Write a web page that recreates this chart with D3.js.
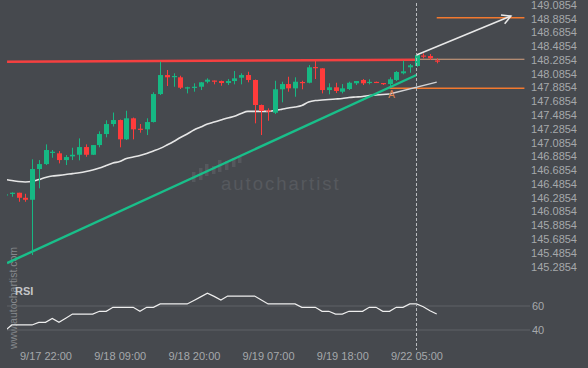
<!DOCTYPE html>
<html><head><meta charset="utf-8">
<script src="https://cdn.jsdelivr.net/npm/d3@7"></script>
<style>
html,body{margin:0;padding:0;background:#46494e;}
svg{display:block;font-family:"Liberation Sans",Arial,sans-serif;}
</style></head>
<body>
<svg id="c" width="588" height="368"></svg>
<script>
// ---- data ----
const opens = [146.330,146.354,146.357,146.284,146.255,146.701,146.773,146.948,146.929,146.831,146.885,146.908,147.020,146.908,147.049,147.209,147.354,147.412,147.132,147.437,147.286,147.277,147.383,147.789,148.065,148.043,148.032,147.882,147.891,147.895,147.968,147.985,147.978,147.949,147.978,148.026,148.065,147.993,147.630,147.553,147.518,147.858,147.934,147.872,147.964,147.953,148.181,148.162,147.847,147.887,147.823,147.862,147.945,147.993,147.961,147.966,147.949,147.934,147.993,148.090,148.177,148.196,148.348,148.341,148.276];
const highs = [146.345,146.363,146.357,146.342,146.842,146.831,147.059,146.977,146.962,146.904,147.010,147.146,147.059,147.049,147.248,147.408,147.521,147.419,147.547,147.448,147.354,147.437,147.814,148.258,148.138,148.090,148.055,147.895,147.945,147.964,148.017,147.985,147.985,148.007,148.123,148.090,148.113,148.000,147.637,147.582,147.982,147.968,148.040,148.032,147.982,148.210,148.283,148.166,147.945,147.953,147.934,147.968,147.978,148.007,148.003,147.970,147.949,148.032,148.123,148.273,148.225,148.370,148.380,148.370,148.307];
const lows = [146.323,146.299,146.226,146.226,145.453,146.421,146.759,146.865,146.783,146.759,146.831,146.827,146.879,146.904,147.016,147.161,147.318,147.016,147.122,147.132,147.228,147.194,147.376,147.775,147.905,147.895,147.862,147.799,147.823,147.847,147.945,147.930,147.910,147.920,147.930,147.930,147.959,147.364,147.194,147.402,147.499,147.669,147.823,147.750,147.858,147.945,148.007,147.799,147.785,147.804,147.799,147.847,147.920,147.920,147.930,147.958,147.920,147.905,147.978,148.075,148.098,148.185,148.307,148.283,148.235];
const closes = [146.334,146.357,146.284,146.255,146.701,146.773,146.977,146.952,146.831,146.875,146.908,147.020,146.908,147.049,147.209,147.354,147.412,147.132,147.437,147.277,147.274,147.383,147.789,148.065,148.032,148.051,147.881,147.887,147.895,147.959,147.997,147.979,147.949,147.978,148.017,148.065,147.993,147.630,147.543,147.543,147.858,147.934,147.872,147.968,147.955,148.177,148.174,147.847,147.887,147.833,147.872,147.953,147.978,147.945,147.966,147.961,147.942,148.003,148.109,148.119,148.206,148.355,148.342,148.307,148.270];
const maValues = [146.551,146.534,146.519,146.512,146.519,146.548,146.577,146.599,146.609,146.621,146.635,146.647,146.664,146.686,146.715,146.752,146.788,146.810,146.853,146.875,146.897,146.926,146.962,147.001,147.049,147.100,147.158,147.209,147.267,147.310,147.354,147.383,147.412,147.441,147.466,147.506,147.538,147.538,147.538,147.538,147.550,147.567,147.586,147.601,147.622,147.673,147.695,147.702,147.710,147.717,147.724,147.739,147.746,147.753,147.768,147.775,147.782,147.789];
const rsiValues = [39.5,44.2,44.2,44.2,44.2,46.4,46.4,49.7,46.4,49.8,53.3,53.3,53.3,53.3,55.6,55.6,58.9,58.9,58.9,58.9,55.6,58.9,58.9,61.7,61.7,61.7,61.7,61.7,64.6,67.6,70.6,68,65,68.3,68.3,68.3,68.3,68.3,65,61.7,61.7,61.7,61.7,61.7,58.9,58.9,58.9,55.6,55.6,53.3,53.3,55.6,55.6,55.6,58.9,58.9,55.6,55.6,58.9,58.9,61.7,61.7,59.4,56.1,53.3];
const yTickLabels = ["149.0854","148.8854","148.6854","148.4854","148.2854","148.0854","147.8854","147.6854","147.4854","147.2854","147.0854","146.8854","146.6854","146.4854","146.2854","146.0854","145.8854","145.6854","145.4854","145.2854"];
const xTickIdx = [6,17,28,39,50,61];
const xTickLabels = ["9/17 22:00","9/18 09:00","9/18 20:00","9/19 07:00","9/19 18:00","9/22 05:00"];
const rsiTicks = [60,40];
// pattern lines: [startIndex, startPrice, endIndex, endPrice]
const resistance = [0.3, 148.257, 61, 148.287];
const support = [0.3, 145.336, 61, 148.065];
const channelExt = [57, 147.789, 64, 147.963];
const forecastArrow = [61, 148.355, 75, 148.921];
const levelTop = [64, 148.895, 77, 148.895];
const levelMid = [61, 148.293, 77, 148.293];
const levelLow = [57, 147.872, 77, 147.872];
const markA = [57.3, 147.78];
const nowIdx = 61;

// ---- scales ----
const x = d3.scaleLinear().domain([6, 61]).range([45.5, 416.5]);
const y = d3.scaleLinear().domain([145.2854, 149.0854]).range([266.6, 4.7]);
const yr = d3.scaleLinear().domain([40, 60]).range([330, 306]);

const svg = d3.select("#c");
svg.append("rect").attr("width",588).attr("height",368).attr("fill","#46494e");
svg.append("clipPath").attr("id","clip").append("rect").attr("x",7).attr("y",0).attr("width",581).attr("height",368);

// watermark center
const wm = svg.append("g");
const wmBars = [[192,172,182],[199,168,180],[205,164,176],[212,166,174],[218,160,172],[225,161,170],[232,158,167],[238,156,163]];
wm.selectAll("rect").data(wmBars).join("rect")
  .attr("x",d=>d[0]).attr("y",d=>d[1]).attr("width",3.5).attr("height",d=>d[2]-d[1]).attr("fill","#55585d");
wm.append("text").attr("x",221).attr("y",190).attr("font-size",18.5).attr("fill","#56595e")
  .attr("letter-spacing",2).text("autochartist");

// side watermark
svg.append("text").attr("transform","translate(17,349) rotate(-90)").attr("font-size",10.5)
  .attr("fill","#85888c").text("www.autochartist.com");

const g = svg.append("g").attr("clip-path","url(#clip)");

// RSI grid
g.selectAll("line.rg").data(rsiTicks).join("line").attr("class","rg")
  .attr("x1",7).attr("x2",530).attr("y1",d=>yr(d)).attr("y2",d=>yr(d))
  .attr("stroke","#5f6266").attr("stroke-width",1);
svg.selectAll("text.rl").data(rsiTicks).join("text").attr("class","rl")
  .attr("x",532).attr("y",d=>yr(d)).attr("dy","0.35em").attr("font-size",11).attr("fill","#a5a8ab").text(d=>d);
svg.append("text").attr("x",15).attr("y",295).attr("font-size",11).attr("font-weight","bold").attr("fill","#c4c6c8").text("RSI");

// now line
svg.append("line").attr("x1",x(nowIdx)).attr("x2",x(nowIdx)).attr("y1",3).attr("y2",350)
  .attr("stroke","#b9bcbf").attr("stroke-width",1).attr("stroke-dasharray","3,2");

// level lines
const seg = (arr, color, w) => g.append("line")
  .attr("x1",x(arr[0])).attr("y1",y(arr[1])).attr("x2",x(arr[2])).attr("y2",y(arr[3]))
  .attr("stroke",color).attr("stroke-width",w);
seg(levelTop, "#f2792f", 1.5);
seg(levelMid, "#d9a27f", 1.1);
seg(levelLow, "#f2792f", 1.5);

// moving average
const maLine = d3.line().x((d,i)=>x(i)).y(d=>y(d)).curve(d3.curveMonotoneX);
g.append("path").attr("d",maLine(maValues)).attr("fill","none").attr("stroke","#e6e6e6").attr("stroke-width",1.6);
seg(channelExt, "#d2d3d5", 1.4);

// support / resistance
seg(resistance, "#ff4040", 2.6).attr("opacity",0.95);
seg(support, "#19bf8a", 2.4);

// candles
const idx = d3.range(opens.length);
const up = i => closes[i] >= opens[i];
const cg = g.append("g");
cg.selectAll("line.w").data(idx).join("line").attr("class","w")
  .attr("x1",i=>Math.round(x(i))+0.5).attr("x2",i=>Math.round(x(i))+0.5)
  .attr("y1",i=>y(highs[i])).attr("y2",i=>y(lows[i]))
  .attr("stroke",i=>up(i)?"#16b883":"#ff3b3b").attr("stroke-width",1);
cg.selectAll("rect.b").data(idx).join("rect").attr("class","b")
  .attr("x",i=>Math.round(x(i))-2)
  .attr("y",i=>y(Math.max(opens[i],closes[i])))
  .attr("width",5)
  .attr("height",i=>Math.max(1.2, y(Math.min(opens[i],closes[i]))-y(Math.max(opens[i],closes[i]))))
  .attr("fill",i=>up(i)?"#16b883":"#ff3b3b");

// forecast arrow
const ax1 = x(forecastArrow[0]), ay1 = y(forecastArrow[1]), ax2 = x(forecastArrow[2]), ay2 = y(forecastArrow[3]);
g.append("line").attr("x1",ax1).attr("y1",ay1).attr("x2",ax2).attr("y2",ay2).attr("stroke","#e8e8e8").attr("stroke-width",1.5);
const ang = Math.atan2(ay2-ay1, ax2-ax1);
const hl = 10;
g.append("path").attr("d",
  `M${ax2-hl*Math.cos(ang-0.5)},${ay2-hl*Math.sin(ang-0.5)}L${ax2},${ay2}L${ax2-hl*Math.cos(ang+0.5)},${ay2-hl*Math.sin(ang+0.5)}`)
  .attr("fill","none").attr("stroke","#e8e8e8").attr("stroke-width",1.5);

// A marker
svg.append("text").attr("x",x(markA[0])).attr("y",y(markA[1])).attr("text-anchor","middle").attr("dy","0.35em")
  .attr("font-size",10).attr("fill","#e0824f").text("A");

// RSI line
const rsiLine = d3.line().x((d,i)=>x(i)).y(d=>yr(d));
g.append("path").attr("d",rsiLine(rsiValues)).attr("fill","none").attr("stroke","#eeeeee").attr("stroke-width",1.2);

// y axis (price)
const yAxis = d3.axisLeft(y).tickValues(yTickLabels.map(Number)).tickFormat((d,i)=>yTickLabels[i]).tickSize(0).tickPadding(0);
const ya = svg.append("g").attr("transform","translate(577,0)").call(yAxis);
ya.select(".domain").remove();
ya.selectAll("text").attr("font-size",11).attr("fill","#a5a8ab").attr("font-family","Liberation Sans, Arial, sans-serif");

// x axis
const xAxis = d3.axisBottom(x).tickValues(xTickIdx).tickFormat((d,i)=>xTickLabels[i]).tickSize(0).tickPadding(0);
const xa = svg.append("g").attr("transform","translate(0,352)").call(xAxis);
xa.select(".domain").remove();
xa.selectAll("text").attr("font-size",11).attr("fill","#a5a8ab").attr("font-family","Liberation Sans, Arial, sans-serif");
</script>
</body></html>
